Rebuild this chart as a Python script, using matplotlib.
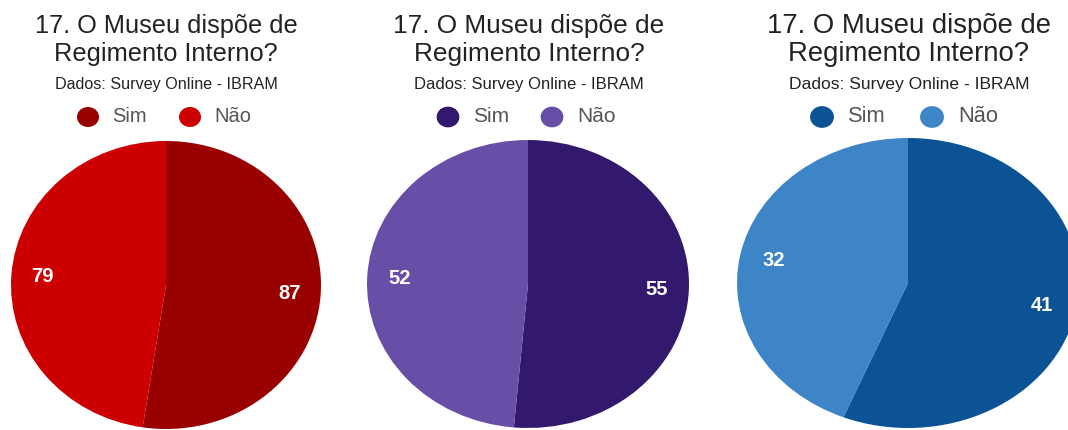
import matplotlib
matplotlib.use("Agg")
import matplotlib.pyplot as plt
from matplotlib.patches import Ellipse

plt.rcParams['font.family'] = ['Liberation Sans', 'DejaVu Sans']

# dados dos tres graficos (Sim, Nao)
categorias = ["Sim", "Não"]
valores_vermelho = [87, 79]
valores_roxo = [55, 52]
valores_azul = [41, 32]

titulo = ["17. O Museu dispõe de", "Regimento Interno?"]
subtitulo = "Dados: Survey Online - IBRAM"

cores_vermelho = ["#990000", "#cc0000"]
cores_roxo = ["#32196d", "#674ea7"]
cores_azul = ["#0b5394", "#3d85c6"]

W, H = 1068, 430
fig = plt.figure(figsize=(W / 100, H / 100), dpi=100)
fig.patch.set_facecolor("white")

# camada de fundo em pixels para as legendas
bg = fig.add_axes([0, 0, 1, 1])
bg.set_xlim(0, W)
bg.set_ylim(H, 0)
bg.axis("off")

paineis = [
    # valores, cores, centro x do texto, escala, pizza (cx, cy, rx, ry), legenda x
    (valores_vermelho, cores_vermelho, 166, 1.0, (166, 285, 155, 144), (88, 190)),
    (valores_roxo, cores_roxo, 529, 1.035, (528, 284, 161, 144), (448, 552)),
    (valores_azul, cores_azul, 909, 1.085, (908, 283, 171, 145), (822, 932)),
]

for vals, cores, tx, s, (cx, cy, rx, ry), (lx1, lx2) in paineis:
    fig.text(tx / W, 1 - 26 / H, titulo[0], ha="center", va="center",
             fontsize=18.3 * s, color="#222222")
    fig.text(tx / W, 1 - 54 / H, titulo[1], ha="center", va="center",
             fontsize=18.3 * s, color="#222222")
    fig.text(tx / W, 1 - 85 / H, subtitulo, ha="center", va="center",
             fontsize=11.6 * s, color="#222222")

    for lx, cor, nome in zip((lx1, lx2), cores, categorias):
        bg.add_patch(Ellipse((lx, 117), 22 * s, 20 * s, color=cor, lw=0))
        bg.text(lx + 24 * s, 117, nome, ha="left", va="center",
                fontsize=14.5 * s, color="#555555")

    ax = fig.add_axes([(cx - rx) / W, 1 - (cy + ry) / H, 2 * rx / W, 2 * ry / H])
    total = sum(vals)
    wedges, _, autotexts = ax.pie(
        vals, colors=cores, startangle=90, counterclock=False,
        autopct=lambda p, t=total: f"{round(p * t / 100)}",
        pctdistance=0.8, wedgeprops=dict(linewidth=0),
        textprops=dict(color="white", fontsize=14.5, fontweight="bold"))
    ax.set_aspect("auto")
    ax.set_xlim(-1, 1)
    ax.set_ylim(-1, 1)
    ax.axis("off")

fig.savefig("out.png", dpi=100, facecolor="white")
